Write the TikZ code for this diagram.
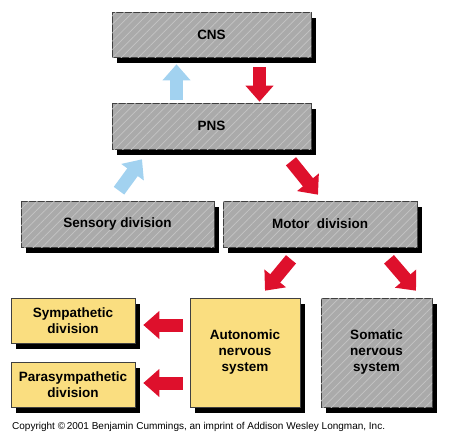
\documentclass[tikz,border=0pt]{standalone}
\usepackage{fontspec}
\setmainfont{Liberation Sans}
\usetikzlibrary{shadows,patterns.meta,arrows.meta,calc}
\definecolor{boxgray}{RGB}{170,170,170}
\definecolor{hatchgray}{RGB}{196,196,196}
\definecolor{boxyellow}{RGB}{250,222,128}
\definecolor{arrred}{RGB}{222,16,44}
\definecolor{arrblue}{RGB}{162,210,240}
\tikzset{
  basebox/.style={draw=black!75, line width=0.6pt, inner sep=0pt, align=center,
    font=\fontsize{13.5}{16}\selectfont\bfseries,
    drop shadow={shadow xshift=5pt, shadow yshift=-6pt, fill=black, opacity=1}},
  graybox/.style={basebox, fill=boxgray,
    postaction={pattern={Lines[angle=45,distance=6pt,line width=0.7pt]}, pattern color=hatchgray}},
  yellowbox/.style={basebox, fill=boxyellow},
  fatarrow/.style={line width=13pt, -{Triangle[length=16pt,width=27pt]}},
  redarrow/.style={fatarrow, draw=arrred},
  bluearrow/.style={fatarrow, draw=arrblue},
}
\begin{document}
\begin{tikzpicture}[x=1pt,y=-1pt]
\useasboundingbox (0,0) rectangle (449,442);
\node[graybox, minimum width=199pt, minimum height=45pt] (cns) at (211.5,34.5) {CNS};
\node[graybox, minimum width=199pt, minimum height=46pt] (pns) at (211.5,126) {PNS};
\node[graybox, minimum width=193pt, minimum height=46pt] (sens) at (117.5,224) {Sensory division};
\node[graybox, minimum width=194pt, minimum height=46pt] (motor) at (320,224) {Motor\ \ division};
\node[yellowbox, minimum width=124pt, minimum height=45pt] (symp) at (73,320.5) {Sympathetic\\division};
\node[yellowbox, minimum width=124pt, minimum height=45pt] (para) at (73,384.5) {Parasympathetic\\division};
\node[yellowbox, minimum width=110pt, minimum height=109pt] (auto) at (245,352.5) {Autonomic\\nervous\\system};
\node[graybox, minimum width=111pt, minimum height=109pt] (soma) at (376.5,352.5) {Somatic\\nervous\\system};
% arrow end points
\coordinate (b1s) at ($(pns.north)+(-35,-3)$);
\coordinate (b1e) at ($(cns.south)+(-35,7)$);
\coordinate (r1s) at ($(cns.south)+(48,10)$);
\coordinate (r1e) at ($(pns.north)+(48,-1)$);
\coordinate (b2s) at ($(sens.north)+(1.5,-10)$);
\coordinate (b2e) at ($(pns.south)+(-69.5,10)$);
\coordinate (r2s) at ($(pns.south)+(79.5,12)$);
\coordinate (r2e) at ($(motor.north)+(-2,-6)$);
\coordinate (r3s) at ($(motor.south)+(-29,12)$);
\coordinate (r3e) at ($(auto.north)+(20,-7)$);
\coordinate (r4s) at ($(motor.south)+(69,12)$);
\coordinate (r4e) at ($(soma.north)+(39.5,-7)$);
\coordinate (r5s) at ($(auto.west)+(-7,-27.5)$);
\coordinate (r5e) at ($(symp.east)+(8,4.5)$);
\coordinate (r6s) at ($(auto.west)+(-7,30.5)$);
\coordinate (r6e) at ($(para.east)+(8,-1.5)$);
\draw[bluearrow] (b1s) -- (b1e);
\draw[redarrow] (r1s) -- (r1e);
\draw[bluearrow] (b2s) -- (b2e);
\draw[redarrow] (r2s) -- (r2e);
\draw[redarrow] (r3s) -- (r3e);
\draw[redarrow] (r4s) -- (r4e);
\draw[redarrow] (r5s) -- (r5e);
\draw[redarrow] (r6s) -- (r6e);
\node[anchor=west, inner sep=0pt, font=\fontsize{10}{12}\selectfont] (copy) at (12,427)
  {Copyright \textcopyright\,2001 Benjamin Cummings, an imprint of Addison Wesley Longman, Inc.};
\end{tikzpicture}
\end{document}
